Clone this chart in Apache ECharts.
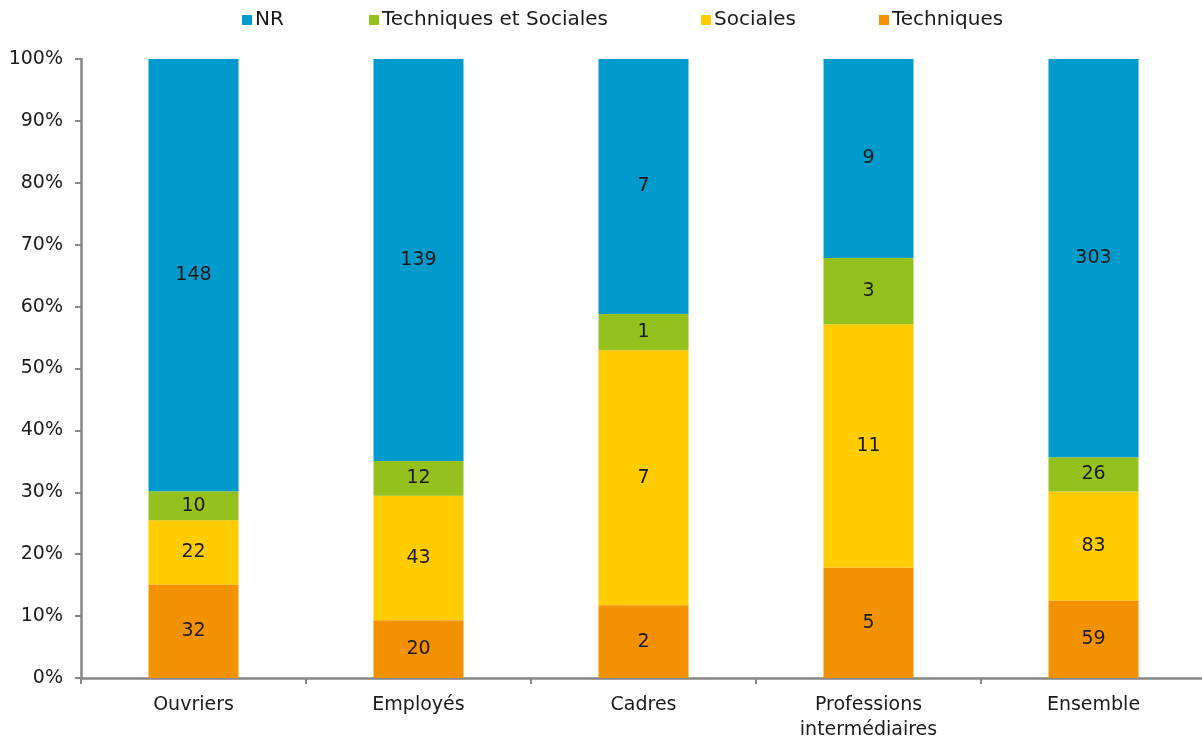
<!DOCTYPE html>
<html>
<head>
<meta charset="utf-8">
<script src="https://cdn.jsdelivr.net/npm/echarts@6/dist/echarts.min.js"></script>
<style>
html,body{margin:0;padding:0;background:#fff;}
#chart{width:1202px;height:742px;}
</style>
</head>
<body>
<div id="chart"></div>
<script>
const categories = ['Ouvriers', 'Employés', 'Cadres', 'Professions\nintermédiaires', 'Ensemble'];
const techniques = [32, 20, 2, 5, 59];
const sociales = [22, 43, 7, 11, 83];
const techSoc = [10, 12, 1, 3, 26];
const nr = [148, 139, 7, 9, 303];
const yTicks = ['0%', '10%', '20%', '30%', '40%', '50%', '60%', '70%', '80%', '90%', '100%'];
const legendNames = ['NR', 'Techniques et Sociales', 'Sociales', 'Techniques'];

const totals = categories.map((_, i) => techniques[i] + sociales[i] + techSoc[i] + nr[i]);
const pct = arr => arr.map((v, i) => ({ value: v / totals[i] * 100, count: v }));

const FONT = 'DejaVu Sans';
const FS = 19;
const mk = (name, arr, color) => ({
  name: name,
  type: 'bar',
  stack: 'total',
  barWidth: 90,
  data: pct(arr),
  itemStyle: { color: color },
  label: {
    show: true,
    position: 'inside',
    color: '#1a1a1a',
    fontFamily: FONT,
    fontSize: FS,
    formatter: p => String(p.data.count)
  },
  emphasis: { disabled: true }
});

const legendLeft = [242, 369, 701, 879];
const legends = legendNames.map((n, i) => ({
  top: 10,
  left: legendLeft[i],
  itemWidth: 10,
  itemHeight: 10,
  icon: 'rect',
  padding: 0,
  textStyle: { fontFamily: FONT, fontSize: 20, color: '#1a1a1a', padding: [0, 0, 0, -2] },
  data: [n]
}));

const chart = echarts.init(document.getElementById('chart'));
chart.setOption({
  animation: false,
  textStyle: { fontFamily: FONT },
  legend: legends,
  grid: { left: 81, width: 1125, top: 59, bottom: 64, containLabel: false, outerBoundsMode: 'none' },
  xAxis: {
    type: 'category',
    data: categories,
    axisLine: { lineStyle: { color: '#878787', width: 2.5 } },
    axisTick: { show: true, length: 6, lineStyle: { color: '#878787', width: 2 } },
    axisLabel: { fontFamily: FONT, fontSize: FS, color: '#1a1a1a', margin: 15, lineHeight: 25 }
  },
  yAxis: {
    type: 'value',
    min: 0,
    max: 100,
    interval: 10,
    axisLine: { show: true, lineStyle: { color: '#878787', width: 2.5 } },
    axisTick: { show: true, length: 6, lineStyle: { color: '#878787', width: 2 } },
    splitLine: { show: false },
    axisLabel: {
      fontFamily: FONT, fontSize: FS, color: '#1a1a1a', margin: 18,
      formatter: v => yTicks[Math.round(v / 10)]
    }
  },
  series: [
    mk('Techniques', techniques, '#F39200'),
    mk('Sociales', sociales, '#FFCC00'),
    mk('Techniques et Sociales', techSoc, '#95C11F'),
    mk('NR', nr, '#009ACD')
  ]
});
</script>
</body>
</html>
